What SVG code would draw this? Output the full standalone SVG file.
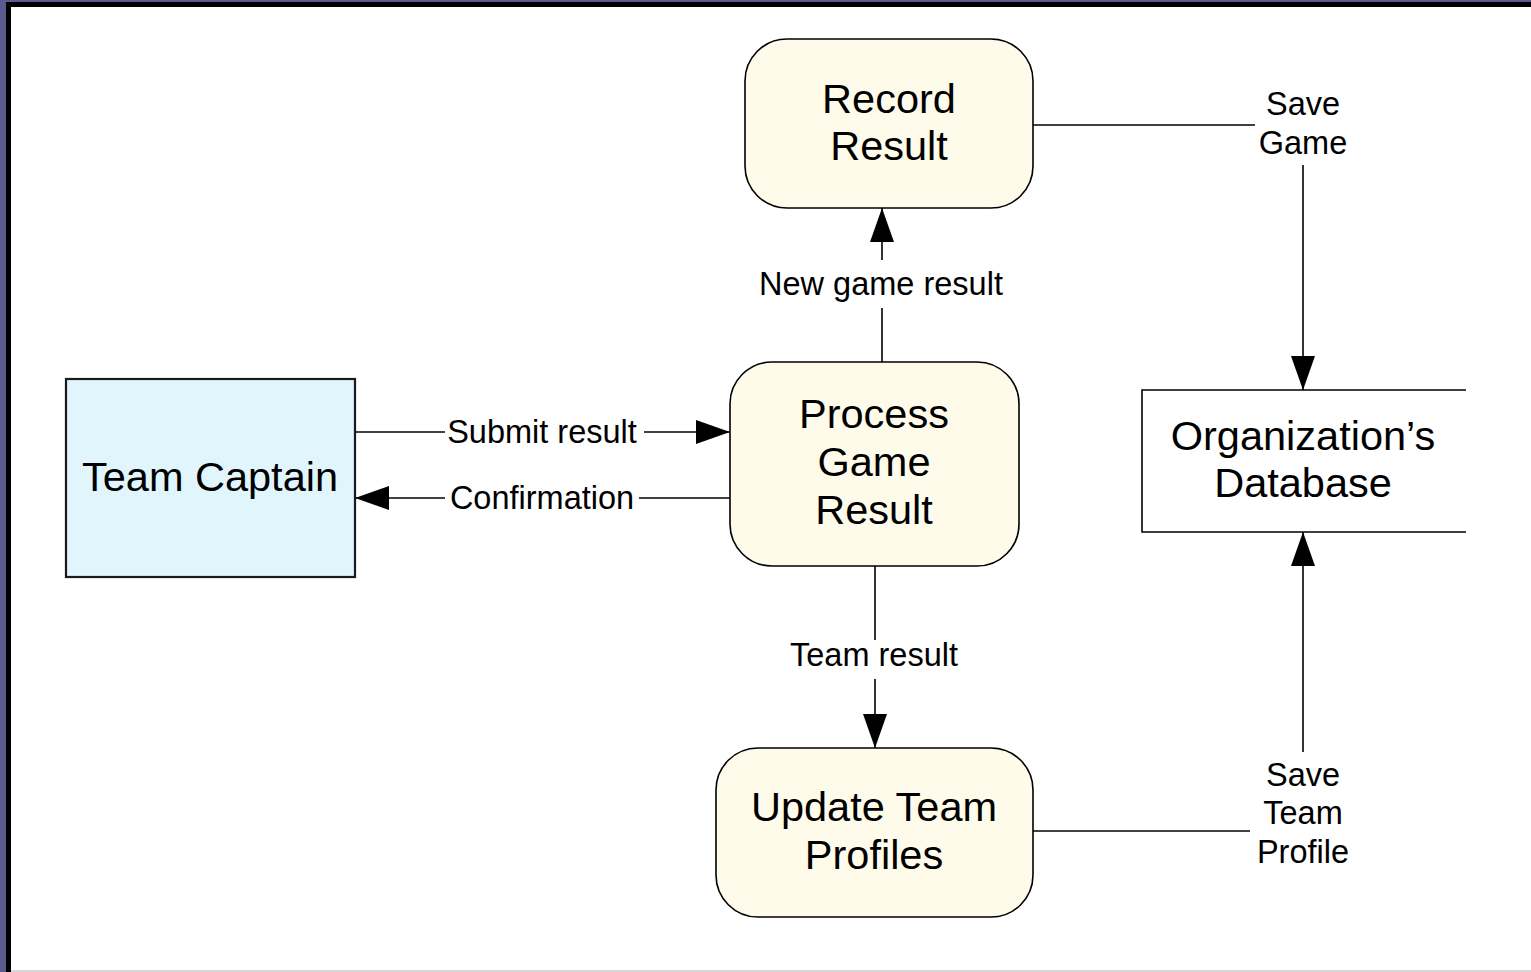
<svg xmlns="http://www.w3.org/2000/svg" width="1531" height="972" viewBox="0 0 1531 972">
  <style>
    .node { stroke: #000; stroke-width: 1.6; }
    .proc { fill: #fffbea; }
    .ext { fill: #e1f5fd; stroke: #1a1a1a; stroke-width: 2.2; }
    .store { fill: none; stroke: #000; stroke-width: 1.6; }
    .t { font-family: "Liberation Sans", Arial, sans-serif; font-size: 41.5px; fill: #000; text-anchor: middle; }
    .l { font-family: "Liberation Sans", Arial, sans-serif; font-size: 32.5px; fill: #000; text-anchor: middle; }
    .c { fill: none; stroke: #000; stroke-width: 1.6; }
  </style>
  <defs>
    <marker id="arrow" markerUnits="userSpaceOnUse" markerWidth="36" markerHeight="26" refX="34" refY="12" orient="auto">
      <polygon points="0,0 34,12 0,24" fill="#000"/>
    </marker>
  </defs>

  <!-- frame -->
  <rect x="0" y="0" width="1531" height="972" fill="#fff"/>
  <rect x="0" y="0" width="6" height="972" fill="#5c5a8c"/>
  <rect x="0" y="0" width="1531" height="2" fill="#5c5a8c"/>
  <rect x="6" y="2" width="5" height="970" fill="#000"/>
  <rect x="6" y="2" width="1525" height="5" fill="#000"/>
  <rect x="11" y="970" width="1520" height="2" fill="#d8d8d8"/>

  <g id="connectors">
    <!-- Record Result -> Organization's Database -->
    <polyline class="c" points="1033,125 1255,125"/>
    <line class="c" x1="1303" y1="165" x2="1303" y2="390" marker-end="url(#arrow)"/>
    <text class="l" x="1303" y="115">Save</text>
    <text class="l" x="1303" y="154">Game</text>

    <!-- Process Game Result -> Record Result -->
    <line class="c" x1="882" y1="362" x2="882" y2="308"/>
    <line class="c" x1="882" y1="260" x2="882" y2="208" marker-end="url(#arrow)"/>
    <text class="l" x="881" y="295">New game result</text>

    <!-- Team Captain -> Process Game Result -->
    <line class="c" x1="355" y1="432" x2="445" y2="432"/>
    <line class="c" x1="644" y1="432" x2="730" y2="432" marker-end="url(#arrow)"/>
    <text class="l" x="542" y="443">Submit result</text>

    <!-- Process Game Result -> Team Captain -->
    <line class="c" x1="730" y1="498" x2="639" y2="498"/>
    <line class="c" x1="445" y1="498" x2="355" y2="498" marker-end="url(#arrow)"/>
    <text class="l" x="542" y="509">Confirmation</text>

    <!-- Process Game Result -> Update Team Profiles -->
    <line class="c" x1="875" y1="566" x2="875" y2="640"/>
    <line class="c" x1="875" y1="679" x2="875" y2="748" marker-end="url(#arrow)"/>
    <text class="l" x="874" y="666">Team result</text>

    <!-- Update Team Profiles -> Organization's Database -->
    <line class="c" x1="1033" y1="831" x2="1250" y2="831"/>
    <line class="c" x1="1303" y1="752" x2="1303" y2="532" marker-end="url(#arrow)"/>
    <text class="l" x="1303" y="786">Save</text>
    <text class="l" x="1303" y="824">Team</text>
    <text class="l" x="1303" y="863">Profile</text>
  </g>

  <g id="team-captain">
    <rect class="ext" x="66" y="379" width="289" height="198"/>
    <text class="t" x="210" y="491">Team Captain</text>
  </g>

  <g id="record-result">
    <rect class="node proc" x="745" y="39" width="288" height="169" rx="42" ry="42"/>
    <text class="t" x="889" y="113">Record</text>
    <text class="t" x="889" y="160">Result</text>
  </g>

  <g id="process-game-result">
    <rect class="node proc" x="730" y="362" width="289" height="204" rx="42" ry="42"/>
    <text class="t" x="874" y="428">Process</text>
    <text class="t" x="874" y="476">Game</text>
    <text class="t" x="874" y="524">Result</text>
  </g>

  <g id="update-team-profiles">
    <rect class="node proc" x="716" y="748" width="317" height="169" rx="42" ry="42"/>
    <text class="t" x="874" y="821">Update Team</text>
    <text class="t" x="874" y="869">Profiles</text>
  </g>

  <g id="organizations-database">
    <polyline class="store" points="1466,390 1142,390 1142,532 1466,532"/>
    <text class="t" x="1303" y="450">Organization’s</text>
    <text class="t" x="1303" y="497">Database</text>
  </g>
</svg>
